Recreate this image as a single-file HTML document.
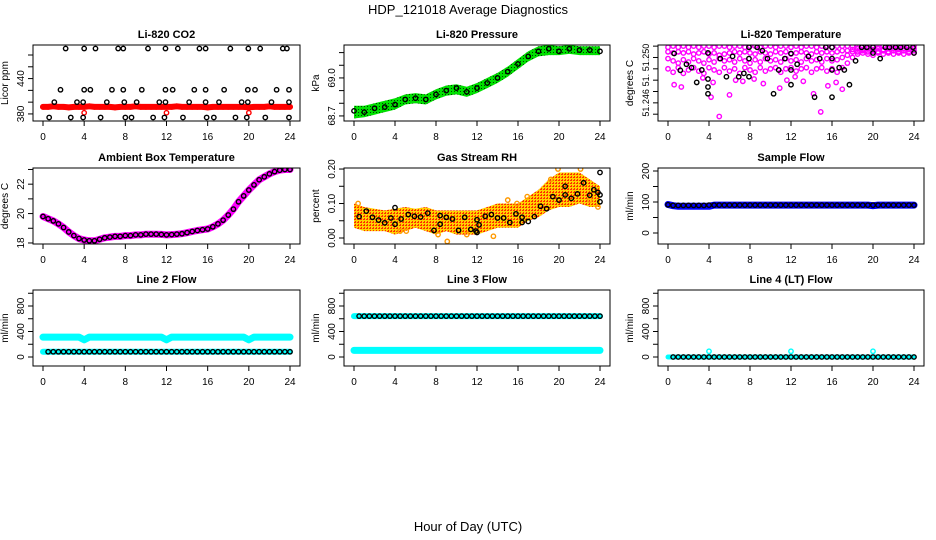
<!DOCTYPE html>
<html><head><meta charset="utf-8"><style>
html,body{margin:0;padding:0;background:#fff;}
svg{display:block;font-family:"Liberation Sans",Arial,sans-serif;}
</style></head><body>
<svg id="chart" width="936" height="540" viewBox="0 0 936 540" xmlns="http://www.w3.org/2000/svg">
<defs>
<pattern id="greenDots" width="3" height="3" patternUnits="userSpaceOnUse"><rect width="3" height="3" fill="#00e000"/><rect x="1" y="1" width="1" height="1" fill="#004000"/></pattern>
<pattern id="orangeDots" width="3" height="3" patternUnits="userSpaceOnUse"><rect width="3" height="3" fill="#ffd000"/><rect x="0" y="0" width="2" height="1" fill="#ff3000"/><rect x="1" y="2" width="1" height="1" fill="#ff3000"/></pattern>
</defs>
<text x="468" y="14" text-anchor="middle" font-size="13">HDP_121018  Average Diagnostics</text>
<text x="468" y="531" text-anchor="middle" font-size="13">Hour of Day (UTC)</text>
</svg>
<script>
// ---------- shared hour grids ----------
const hrs = [0,1,2,3,4,5,6,7,8,9,10,11,12,13,14,15,16,17,18,19,20,21,22,23,24];
const hh = [0,0.5,1,1.5,2,2.5,3,3.5,4,4.5,5,5.5,6,6.5,7,7.5,8,8.5,9,9.5,10,10.5,11,11.5,12,12.5,13,13.5,14,14.5,15,15.5,16,16.5,17,17.5,18,18.5,19,19.5,20,20.5,21,21.5,22,22.5,23,23.5,24];
const xTicks = [0,4,8,12,16,20,24];

// ---------- Li-820 CO2 ----------
const co2Red = [392,392,393,392,392,391,392,392,392,393,392,392,392,392,391,392,392,392,393,392,392,392,392,392,392,392,393,392,392,392,392,392,391,392,392,392,392,392,392,392,391,392,392,392,393,392,392,392,392];
const co2RedOutX = [4,12,20];
const co2RedOutY = [382,382,382];
const co2BlackX = [2.2,4.0,5.1,7.3,7.8,10.2,11.9,13.1,15.2,15.8,18.2,19.95,21.1,23.3,23.7,
  1.7,4.0,4.6,6.7,7.8,9.6,11.9,12.6,14.7,15.8,17.6,19.9,20.6,22.7,23.9,
  1.1,3.3,3.9,6.2,7.9,9.1,11.3,11.9,14.2,15.8,17.1,19.3,19.9,22.2,23.9,
  0.6,2.7,3.9,5.6,8.0,8.6,10.7,11.8,13.6,15.9,16.6,18.7,19.8,21.6,23.9];
const co2BlackY = [491,491,491,491,491,491,491,491,491,491,491,491,491,491,491,
  421,421,421,421,421,421,421,421,421,421,421,421,421,421,421,
  400,400,400,400,400,400,400,400,400,400,400,400,400,400,400,
  374,374,374,374,374,374,374,374,374,374,374,374,374,374,374];

// ---------- Li-820 Pressure ----------
const presBlack = [68.74,68.73,68.76,68.77,68.79,68.83,68.84,68.83,68.87,68.90,68.92,68.89,68.92,68.96,69.00,69.05,69.11,69.17,69.21,69.23,69.21,69.23,69.22,69.22,69.21];
const presLow  = [68.68,68.69,68.71,68.73,68.75,68.79,68.80,68.79,68.83,68.86,68.87,68.85,68.88,68.92,68.96,69.01,69.07,69.13,69.17,69.18,69.18,69.19,69.18,69.18,69.18];
const presHigh = [68.78,68.78,68.80,68.82,68.84,68.87,68.88,68.87,68.91,68.94,68.95,68.93,68.96,69.00,69.04,69.09,69.15,69.21,69.25,69.26,69.25,69.26,69.25,69.25,69.25];

// ---------- Li-820 Temperature ----------
const tmLev1 = [51.2509,51.2510,51.2509,51.2510,51.2509,51.2510,51.2509,51.2510,51.2510,51.2509,51.2510,51.2510,51.2509,51.2510,51.2510,51.2509,51.2510,51.2510,51.2509,51.2510,51.2510,51.2509,51.2510,51.2510,51.2509,51.2510,51.2509,51.2510,51.2510,51.2509,51.2510,51.2510,51.2509,51.2510,51.2510,51.2510,51.2510,51.2510,51.2510,51.2510,51.2510,51.2510,51.2510,51.2510,51.2510,51.2510,51.2510,51.2510,51.2510];
const tmLev2 = [51.2505,51.2504,51.2505,51.2504,51.2505,51.2503,51.2504,51.2505,51.2503,51.2504,51.2502,51.2503,51.2504,51.2505,51.2504,51.2505,51.2504,51.2503,51.2505,51.2504,51.2503,51.2505,51.2504,51.2505,51.2503,51.2504,51.2505,51.2504,51.2503,51.2505,51.2504,51.2505,51.2504,51.2505,51.2506,51.2506,51.2507,51.2508,51.2507,51.2508,51.2507,51.2508,51.2507,51.2508,51.2508,51.2507,51.2508,51.2507,51.2508];
const tmLev3 = [51.2499,51.2497,51.2495,51.2498,51.2496,51.2499,51.2497,51.2495,51.2498,51.2496,51.2499,51.2497,51.2498,51.2496,51.2499,51.2497,51.2495,51.2498,51.2496,51.2499,51.2497,51.2498,51.2496,51.2499,51.2497,51.2498,51.2496,51.2499,51.2497,51.2498,51.2496,51.2499,51.2497,51.2498,51.2500,51.2502,51.2505,51.2505,51.2506,51.2505,51.2506,51.2505,51.2506,51.2505,51.2506,51.2505,51.2506,51.2505,51.2506];
const tmLev4 = [51.2490,51.2487,51.2491,51.2486,51.2489,51.2491,51.2488,51.2486,51.2491,51.2489,51.2487,51.2491,51.2488,51.2490,51.2486,51.2491,51.2489,51.2487,51.2491,51.2488,51.2490,51.2491,51.2487,51.2490,51.2491,51.2488,51.2490,51.2491,51.2487,51.2490,51.2491,51.2488,51.2490,51.2487,51.2491,51.2495,51.2500,51.2503,51.2504,51.2503,51.2502,51.2504,51.2503,51.2504,51.2503,51.2504,51.2503,51.2504,51.2504];
const tmOutX = [0.6,1.3,4.2,4.4,5.0,6.0,6.6,7.3,9.3,10.9,11.6,13.2,14.2,14.9,15.6,16.4,17.0,3.4,8.4,12.4];
const tmOutY = [51.2476,51.2474,51.2465,51.2478,51.2448,51.2467,51.2480,51.2479,51.2477,51.2473,51.2480,51.2479,51.2468,51.2452,51.2475,51.2478,51.2472,51.2482,51.2481,51.2483];
const tmBlackX = [0.6,1.2,1.8,2.3,2.8,3.3,3.9,3.9,3.9,3.9,5.1,5.7,6.3,6.9,7.4,7.9,7.9,7.9,8.7,9.2,9.7,10.3,10.8,11.4,12.0,12.0,12.0,12.6,13.7,14.3,14.8,15.4,16.0,16.0,16.0,16.0,16.7,17.2,17.7,18.3,18.9,19.4,20.0,20.0,20.7,21.2,21.6,22.2,22.7,23.3,23.9,24.0];
const tmBlackY = [51.25035,51.24887,51.2494,51.2491,51.2478,51.2489,51.2481,51.2504,51.2474,51.2468,51.2499,51.2483,51.2501,51.2483,51.2486,51.2499,51.2483,51.2509,51.2509,51.2506,51.2499,51.2468,51.2489,51.2499,51.25035,51.2489,51.2476,51.2494,51.2501,51.2465,51.2499,51.2509,51.2509,51.2499,51.2489,51.2465,51.2491,51.2489,51.2476,51.2497,51.2509,51.2509,51.2509,51.2504,51.2499,51.2509,51.2509,51.2509,51.2509,51.2509,51.2509,51.2504];

// ---------- Ambient Box Temperature ----------
const ambVals = [19.8,19.65,19.5,19.3,19.05,18.75,18.5,18.3,18.2,18.15,18.15,18.25,18.35,18.4,18.45,18.45,18.5,18.5,18.55,18.55,18.6,18.6,18.6,18.58,18.55,18.57,18.6,18.63,18.7,18.78,18.85,18.9,18.95,19.1,19.3,19.55,19.9,20.3,20.8,21.2,21.6,21.95,22.3,22.5,22.7,22.85,22.95,23.0,23.0];

// ---------- Gas Stream RH ----------
const rhLow  = [0.03,0.02,0.02,0.02,0.01,0.02,0.03,0.02,0.01,0.02,0.01,0.01,0.01,0.02,0.03,0.03,0.03,0.05,0.06,0.08,0.09,0.09,0.10,0.09,0.09];
const rhHigh = [0.10,0.09,0.085,0.08,0.085,0.09,0.085,0.09,0.08,0.08,0.08,0.08,0.08,0.09,0.10,0.10,0.10,0.12,0.14,0.17,0.19,0.19,0.19,0.17,0.15];
const rhOutX = [0.4,4.5,5.1,8.2,9.1,11.0,13.6,15.0,15.9,16.9,19.2,19.9,22.1,23.0,23.8];
const rhOutY = [0.10,0.02,0.02,0.01,-0.01,0.01,0.005,0.11,0.10,0.12,0.17,0.20,0.20,0.11,0.09];
const rhBlackX = [0.5,1.2,1.8,2.4,3.0,3.6,4.0,4.0,4.6,5.3,5.9,6.5,7.2,7.8,8.4,8.4,9.0,9.6,10.2,10.8,11.4,11.9,12.0,12.0,12.2,12.8,13.4,14.0,14.6,15.2,15.8,16.4,16.4,17.0,17.6,18.2,18.8,19.4,20.0,20.6,20.6,21.2,21.8,22.4,23.0,23.4,23.8,24.0,24.0,24.0];
const rhBlackY = [0.062,0.078,0.060,0.052,0.044,0.058,0.088,0.040,0.055,0.068,0.063,0.061,0.072,0.022,0.065,0.040,0.060,0.055,0.022,0.060,0.025,0.020,0.053,0.016,0.038,0.063,0.068,0.058,0.058,0.045,0.070,0.060,0.045,0.048,0.062,0.092,0.085,0.120,0.110,0.150,0.125,0.115,0.128,0.160,0.124,0.140,0.132,0.190,0.105,0.125];

// ---------- Sample Flow ----------
const sfBlue = [92,88,86,86,86,86,86,86,86,90,90,90,90,90,90,90,90,90,90,90,90,90,90,90,90,90,90,90,90,90,90,90,90,90,90,90,90,90,90,90,88,90,90,90,90,90,90,90,90];
const sfBlack = [91,89,89,89,89,89,89,89,90,90,90,90,90,90,90,90,90,90,90,90,90,90,90,90,90,90,90,90,90,90,90,90,90,90,90,90,90,90,90,90,90,90,90,90,90,90,90,90,90];

// ---------- Line 2 Flow ----------
const l2Cyan = [313,313,313,313,313,313,313,313,270,313,313,313,313,313,313,313,313,313,313,313,313,313,313,313,270,313,313,313,313,313,313,313,313,313,313,313,313,313,313,313,270,313,313,313,313,313,313,313,313];
const l2Black = [82,82,82,82,82,82,82,82,82,82,82,82,82,82,82,82,82,82,82,82,82,82,82,82,82,82,82,82,82,82,82,82,82,82,82,82,82,82,82,82,82,82,82,82,82,82,82,82,82];

// ---------- Line 3 Flow ----------
const l3Cyan = [103,103,103,103,103,103,103,103,103,103,103,103,103,103,103,103,103,103,103,103,103,103,103,103,103,103,103,103,103,103,103,103,103,103,103,103,103,103,103,103,103,103,103,103,103,103,103,103,103];
const l3Black = [641,641,641,641,641,641,641,641,641,641,641,641,641,641,641,641,641,641,641,641,641,641,641,641,641,641,641,641,641,641,641,641,641,641,641,641,641,641,641,641,641,641,641,641,641,641,641,641,641];

// ---------- Line 4 Flow ----------
const l4Black = [0,0,0,0,0,0,0,0,0,0,0,0,0,0,0,0,0,0,0,0,0,0,0,0,0,0,0,0,0,0,0,0,0,0,0,0,0,0,0,0,0,0,0,0,0,0,0,0,0];
const l4CyanOutX = [4,12,20];
const l4CyanOutY = [90,90,90];

const NS = 'http://www.w3.org/2000/svg';
const svg = document.getElementById('chart');
function mk(tag, attrs, parent){
  const e = document.createElementNS(NS, tag);
  for (const k in attrs) e.setAttribute(k, attrs[k]);
  (parent||svg).appendChild(e);
  return e;
}

function panel(opt){
  const g = mk('g', {});
  
  
  const L=opt.box[0], R=opt.box[1], T=opt.box[2], B=opt.box[3];
  const sx = h => (L+10) + h/24*((R-10)-(L+10));
  const sy = v => B - (v-opt.ymin)/(opt.ymax-opt.ymin)*(B-T);
  const t = mk('text', {x:(L+R)/2, y:T-7, 'text-anchor':'middle', 'font-size':'11', 'font-weight':'bold'}, g);
  t.textContent = opt.title;
  
  
  const plot = mk('g', {}, g);
  
  
  const cp = 'clip-' + opt.name;
  const c = mk('clipPath', {id: cp}, g);
  mk('rect', {x:L, y:T, width:R-L, height:B-T}, c);
  plot.setAttribute('clip-path', 'url(#' + cp + ')');
  opt.draw(plot, sx, sy);
  const box = mk('rect', {x:L, y:T, width:R-L, height:B-T, fill:'none', stroke:'#000', 'stroke-width':'1'}, g);
  
  
  xTicks.forEach(h => {
    mk('line', {x1:sx(h), x2:sx(h), y1:B, y2:B+5, stroke:'#000'}, g);
    const tl = mk('text', {x:sx(h), y:B+19, 'text-anchor':'middle', 'font-size':'10'}, g);
    tl.textContent = h;
    
    
  });
  opt.yTicks.forEach(v => {
    mk('line', {x1:L-5, x2:L, y1:sy(v), y2:sy(v), stroke:'#000'}, g);
  });
  const fs = opt.yFont || 10;
  opt.yLabels.forEach((v,i) => {
    const y = sy(v), x = L-9;
    const tl = mk('text', {x:x, y:y, 'text-anchor':'middle', 'font-size':fs, transform:'rotate(-90 '+x+' '+y+')'}, g);
    tl.textContent = opt.yLabelText[i];
    
    
  });
  const ym = (T+B)/2, xl = L-25;
  const yt = mk('text', {x:xl, y:ym, 'text-anchor':'middle', 'font-size':'10', transform:'rotate(-90 '+xl+' '+ym+')'}, g);
  yt.textContent = opt.ylab;
  
  
}

function pts(parent, xs, ys, sx, sy, color, name){
  xs.forEach((x,i) => {
    const c = mk('circle', {cx:sx(x), cy:sy(ys[i]), r:2.2, fill:'none', stroke:color, 'stroke-width':1.4}, parent);
    
    
  });
}
function line(parent, xs, ys, sx, sy, color, w, name){
  const d = xs.map((x,i)=>(i?'L':'M')+sx(x).toFixed(1)+' '+sy(ys[i]).toFixed(1)).join(' ');
  const p = mk('path', {d:d, fill:'none', stroke:color, 'stroke-width':w, 'stroke-linecap':'round', 'stroke-linejoin':'round'}, parent);
  
  
}
function band(parent, xs, lo, hi, sx, sy, fill, name){
  let d = xs.map((x,i)=>(i?'L':'M')+sx(x).toFixed(1)+' '+sy(hi[i]).toFixed(1)).join(' ');
  for (let i=xs.length-1;i>=0;i--) d += ' L'+sx(xs[i]).toFixed(1)+' '+sy(lo[i]).toFixed(1);
  const p = mk('path', {d:d+' Z', fill:fill, stroke:'none'}, parent);
  
  
}

const C1=[33,300], C2=[344,610], C3=[658,924];
const R1=[45,121], R2=[168,244], R3=[290,366];

panel({name:'co2', title:'Li-820 CO2', ylab:'Licor ppm', box:[C1[0],C1[1],R1[0],R1[1]],
  ymin:368, ymax:497, yTicks:[380,400,420,440,460,480], yLabels:[380,440], yLabelText:['380','440'],
  draw:(g,sx,sy)=>{
    line(g, hh, co2Red, sx, sy, '#ff0000', 6, 'co2-red-series');
    pts(g, hh, co2Red, sx, sy, '#ff0000', 'co2-red-point');
    pts(g, co2RedOutX, co2RedOutY, sx, sy, '#ff0000', 'co2-red-outlier');
    pts(g, co2BlackX, co2BlackY, sx, sy, '#000', 'co2-black-point');
  }});

panel({name:'pressure', title:'Li-820 Pressure', ylab:'kPa', box:[C2[0],C2[1],R1[0],R1[1]],
  ymin:68.66, ymax:69.26, yTicks:[68.7,68.8,68.9,69.0,69.1,69.2], yLabels:[68.7,69.0], yLabelText:['68.7','69.0'],
  draw:(g,sx,sy)=>{
    band(g, hrs, presLow, presHigh, sx, sy, 'url(#greenDots)', 'pressure-green-band');
    pts(g, hrs, presBlack, sx, sy, '#000', 'pressure-black-point');
  }});

panel({name:'li820-temp', title:'Li-820 Temperature', ylab:'degrees C', box:[C3[0],C3[1],R1[0],R1[1]],
  ymin:51.2444, ymax:51.2511, yTicks:[51.245,51.246,51.247,51.248,51.249,51.250,51.251], yLabels:[51.246,51.248,51.250], yLabelText:['51.246','51.','51.250'], yFont:9,
  draw:(g,sx,sy)=>{
    pts(g, hh, tmLev1, sx, sy, '#ff00ff', 'temp-magenta-point');
    pts(g, hh, tmLev2, sx, sy, '#ff00ff', 'temp-magenta-point');
    pts(g, hh, tmLev3, sx, sy, '#ff00ff', 'temp-magenta-point');
    pts(g, hh, tmLev4, sx, sy, '#ff00ff', 'temp-magenta-point');
    pts(g, tmOutX, tmOutY, sx, sy, '#ff00ff', 'temp-magenta-outlier');
    pts(g, tmBlackX, tmBlackY, sx, sy, '#000', 'temp-black-point');
  }});

panel({name:'ambient', title:'Ambient Box Temperature', ylab:'degrees C', box:[C1[0],C1[1],R2[0],R2[1]],
  ymin:17.93, ymax:23.1, yTicks:[18,19,20,21,22,23], yLabels:[18,20,22], yLabelText:['18','20','22'],
  draw:(g,sx,sy)=>{
    line(g, hh, ambVals, sx, sy, '#ff00ff', 7, 'ambient-magenta-series');
    pts(g, hh, ambVals, sx, sy, '#000', 'ambient-black-point');
  }});

panel({name:'rh', title:'Gas Stream RH', ylab:'percent', box:[C2[0],C2[1],R2[0],R2[1]],
  ymin:-0.0174, ymax:0.203, yTicks:[0,0.05,0.10,0.15,0.20], yLabels:[0,0.10,0.20], yLabelText:['0.00','0.10','0.20'],
  draw:(g,sx,sy)=>{
    band(g, hrs, rhLow, rhHigh, sx, sy, 'url(#orangeDots)', 'rh-orange-band');
    pts(g, rhOutX, rhOutY, sx, sy, '#ff9900', 'rh-orange-outlier');
    pts(g, rhBlackX, rhBlackY, sx, sy, '#000', 'rh-black-point');
  }});

panel({name:'sample-flow', title:'Sample Flow', ylab:'ml/min', box:[C3[0],C3[1],R2[0],R2[1]],
  ymin:-35.5, ymax:209.7, yTicks:[0,50,100,150,200], yLabels:[0,100,200], yLabelText:['0','100','200'],
  draw:(g,sx,sy)=>{
    line(g, hh, sfBlue, sx, sy, '#0000ff', 7, 'sample-flow-blue-series');
    pts(g, hh, sfBlack, sx, sy, '#000', 'sample-flow-black-point');
  }});

const flowTicks=[0,200,400,600,800,1000];
panel({name:'line2-flow', title:'Line 2 Flow', ylab:'ml/min', box:[C1[0],C1[1],R3[0],R3[1]],
  ymin:-141, ymax:1051, yTicks:flowTicks, yLabels:[0,400,800], yLabelText:['0','400','800'],
  draw:(g,sx,sy)=>{
    line(g, hh, l2Cyan, sx, sy, '#00ffff', 7, 'line2-cyan-series');
    pts(g, hh, l2Cyan, sx, sy, '#00ffff', 'line2-cyan-point');
    line(g, hh, l2Black, sx, sy, '#00ffff', 6, 'line2-cyan-low-series');
    pts(g, hh.slice(1), l2Black.slice(1), sx, sy, '#000', 'line2-black-point');
  }});

panel({name:'line3-flow', title:'Line 3 Flow', ylab:'ml/min', box:[C2[0],C2[1],R3[0],R3[1]],
  ymin:-141, ymax:1051, yTicks:flowTicks, yLabels:[0,400,800], yLabelText:['0','400','800'],
  draw:(g,sx,sy)=>{
    line(g, hh, l3Cyan, sx, sy, '#00ffff', 7, 'line3-cyan-series');
    line(g, hh, l3Black, sx, sy, '#00ffff', 6, 'line3-cyan-high-series');
    pts(g, hh.slice(1), l3Black.slice(1), sx, sy, '#000', 'line3-black-point');
  }});

panel({name:'line4-flow', title:'Line 4 (LT) Flow', ylab:'ml/min', box:[C3[0],C3[1],R3[0],R3[1]],
  ymin:-141, ymax:1051, yTicks:flowTicks, yLabels:[0,400,800], yLabelText:['0','400','800'],
  draw:(g,sx,sy)=>{
    line(g, hh, l4Black, sx, sy, '#00ffff', 5, 'line4-cyan-series');
    pts(g, hh.slice(1), l4Black.slice(1), sx, sy, '#000', 'line4-black-point');
    pts(g, l4CyanOutX, l4CyanOutY, sx, sy, '#00ffff', 'line4-cyan-outlier');
  }});
</script>
</body></html>
